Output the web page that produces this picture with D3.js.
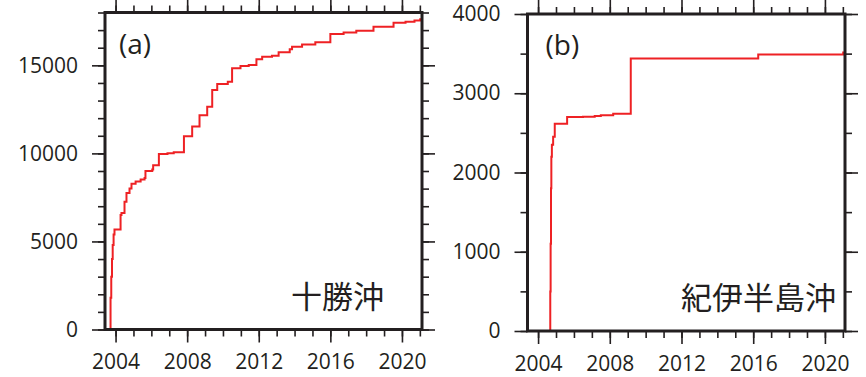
<!DOCTYPE html>
<html><head><meta charset="utf-8">
<script src="https://cdn.jsdelivr.net/npm/d3@7"></script>
<style>body{margin:0;background:#fff} svg{display:block}</style>
</head><body><svg id="c" width="866" height="377"></svg>
<script>
const xDomain = [2003.41, 2021.12];
const xMajorTicks = [2004, 2008, 2012, 2016, 2020];
const xMinorTicks = [2004,2005,2006,2007,2008,2009,2010,2011,2012,2013,2014,2015,2016,2017,2018,2019,2020,2021];

const yearsA = [2003.41,2003.72,2003.76,2003.80,2003.84,2003.89,2003.94,2004.28,2004.33,2004.50,2004.61,2004.78,2004.89,2005.12,2005.40,2005.62,2005.67,2006.05,2006.10,2006.42,2006.90,2007.25,2007.82,2008.28,2008.69,2009.12,2009.40,2009.68,2010.27,2010.51,2010.98,2011.44,2011.87,2012.19,2012.74,2013.11,2013.73,2013.86,2014.42,2015.16,2016.00,2016.74,2017.45,2018.41,2019.53,2020.20,2020.70,2021.02,2021.12];
const countsA = [0,1800,3000,4000,4800,5400,5680,6500,6620,7250,7750,8000,8280,8400,8520,8600,9000,9080,9330,9960,10010,10060,10980,11520,12170,12650,13600,13940,14070,14830,14960,15020,15340,15490,15545,15740,15910,16060,16190,16305,16780,16860,16970,17195,17420,17480,17540,17620,17650];
const yDomainA = [0, 18000];
const yMajorA = [0, 5000, 10000, 15000];
const yMinorA = [0,1000,2000,3000,4000,5000,6000,7000,8000,9000,10000,11000,12000,13000,14000,15000,16000,17000,18000];

const yearsB = [2004.37,2004.68,2004.70,2004.72,2004.74,2004.77,2004.84,2004.93,2005.62,2006.5,2007.16,2007.5,2008.19,2009.17,2016.28,2021.02,2021.12];
const countsB = [0,500,1100,1800,2200,2350,2450,2615,2700,2705,2712,2722,2740,3440,3490,3515,3515];
const yDomainB = [0, 4000];
const yMajorB = [0, 1000, 2000, 3000, 4000];
const yMinorB = [0,500,1000,1500,2000,2500,3000,3500,4000];

const panelLabels = ["(a)", "(b)"];
const regionNames = ["十勝沖", "紀伊半島沖"];

const INK = "#231f20", RED = "#ee2124";
const svg = d3.select("#c");

const panels = [
  {years: yearsA, counts: countsA, yDom: yDomainA, yMaj: yMajorA, yMin: yMinorA,
   box: {l:105, r:422, t:12.5, b:329.5}, label: panelLabels[0], name: regionNames[0], lblDx: 14, nameDx: 38},
  {years: yearsB, counts: countsB, yDom: yDomainB, yMaj: yMajorB, yMin: yMinorB,
   box: {l:527.5, r:845, t:14, b:331}, label: panelLabels[1], name: regionNames[1], lblDx: 18, nameDx: 9}
];

panels.forEach((p, i) => {
  const {l, r, t, b} = p.box;
  const x = d3.scaleLinear().domain(xDomain).range([l, r]);
  const y = d3.scaleLinear().domain(p.yDom).range([b, t]);
  const g = svg.append("g");

  const clipId = "clip" + i;
  svg.append("clipPath").attr("id", clipId).append("rect")
    .attr("x", l - 2).attr("y", t).attr("width", r - l + 2).attr("height", b - t + 1);

  const style = sel => {
    sel.select(".domain").remove();
    sel.selectAll(".tick line").attr("stroke", INK).attr("stroke-width", 1.6);
    sel.selectAll(".tick text").attr("fill", INK)
      .style("font-family", "'Open Sans', sans-serif").style("font-size", "21px");
  };

  // minor ticks
  g.append("g").attr("transform", `translate(0,${b})`)
    .call(d3.axisBottom(x).tickValues(xMinorTicks).tickSize(7).tickFormat("")).call(style);
  g.append("g").attr("transform", `translate(0,${t})`)
    .call(d3.axisTop(x).tickValues(xMinorTicks).tickSize(7).tickFormat("")).call(style);
  g.append("g").attr("transform", `translate(${l},0)`)
    .call(d3.axisLeft(y).tickValues(p.yMin).tickSize(7).tickFormat("")).call(style);
  g.append("g").attr("transform", `translate(${r},0)`)
    .call(d3.axisRight(y).tickValues(p.yMin).tickSize(7).tickFormat("")).call(style);

  // major ticks
  g.append("g").attr("transform", `translate(0,${b})`)
    .call(d3.axisBottom(x).tickValues(xMajorTicks).tickSize(13).tickPadding(12).tickFormat(d3.format("d"))).call(style);
  g.append("g").attr("transform", `translate(0,${t})`)
    .call(d3.axisTop(x).tickValues(xMajorTicks).tickSize(14).tickFormat("")).call(style);
  g.append("g").attr("transform", `translate(${l},0)`)
    .call(d3.axisLeft(y).tickValues(p.yMaj).tickSize(13).tickPadding(14).tickFormat(d3.format("d"))).call(style);
  g.append("g").attr("transform", `translate(${r},0)`)
    .call(d3.axisRight(y).tickValues(p.yMaj).tickSize(13).tickFormat("")).call(style);

  // data line
  const data = p.years.map((yr, k) => [yr, p.counts[k]]);
  g.append("path").datum(data)
    .attr("clip-path", `url(#${clipId})`)
    .attr("fill", "none").attr("stroke", RED).attr("stroke-width", 2)
    .attr("d", d3.line().x(d => x(d[0])).y(d => y(d[1])).curve(d3.curveStepAfter));

  // frame
  g.append("rect").attr("x", l).attr("y", t).attr("width", r - l).attr("height", b - t)
    .attr("fill", "none").attr("stroke", INK).attr("stroke-width", 3);

  // labels
  g.append("text").attr("x", l + p.lblDx).attr("y", t + 41)
    .attr("fill", INK).style("font-family", "'Open Sans', sans-serif").style("font-size", "28px")
    .text(p.label);
  g.append("text").attr("x", r - p.nameDx).attr("y", b - 22).attr("text-anchor", "end")
    .attr("fill", INK).style("font-family", "'Noto Sans CJK JP', sans-serif").style("font-size", "31px")
    .text(p.name);
});
</script>
</body></html>
